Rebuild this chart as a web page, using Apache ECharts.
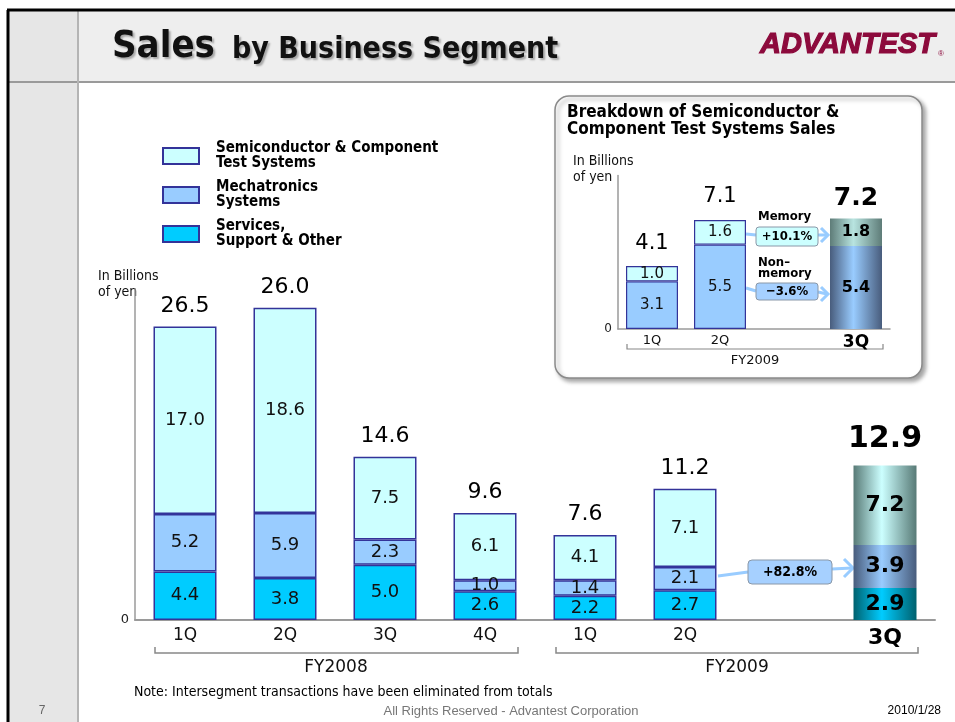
<!DOCTYPE html>
<html>
<head>
<meta charset="utf-8">
<script src="https://cdn.jsdelivr.net/npm/echarts@6/dist/echarts.min.js"></script>
<style>
html, body { margin: 0; padding: 0; background: #fff; }
#main { width: 955px; height: 722px; }
</style>
</head>
<body>
<div id="main"></div>
<script>
// main chart data (billions of yen)
var quarters = ['1Q', '2Q', '3Q', '4Q', '1Q', '2Q', '', '3Q'];
var services = [4.4, 3.8, 5.0, 2.6, 2.2, 2.7, '-', 2.9];
var mechatronics = [5.2, 5.9, 2.3, 1.0, 1.4, 2.1, '-', 3.9];
var semiconductor = [17.0, 18.6, 7.5, 6.1, 4.1, 7.1, '-', 7.2];
var totals = [26.5, 26.0, 14.6, 9.6, 7.6, 11.2, '-', 12.9];

// inset: breakdown of semiconductor & component test systems
var insetQuarters = ['1Q', '2Q', '', '3Q'];
var nonMemory = [3.1, 5.5, '-', 5.4];
var memory = [1.0, 1.6, '-', 1.8];
var insetTotals = [4.1, 7.1, '-', 7.2];

var semiName = 'Semiconductor & Component\nTest Systems';
var mechName = 'Mechatronics\nSystems';
var servName = 'Services,\nSupport & Other';

var NUM = "'DejaVu Sans', Verdana, sans-serif";
var TXT = "'DejaVu Sans Condensed', 'DejaVu Sans', sans-serif";
var EDGE = '#333399';

var chart = echarts.init(document.getElementById('main'));

function cylinder(edge, mid) {
  return new echarts.graphic.LinearGradient(0, 0, 1, 0, [
    { offset: 0, color: edge },
    { offset: 0.45, color: mid },
    { offset: 1, color: edge }
  ]);
}

// values for the last bar get the shaded, borderless look
function items(values, lastIdx, edge, mid, fontSize) {
  return values.map(function (v, i) {
    if (i !== lastIdx || v === '-') return v;
    return {
      value: v,
      itemStyle: { color: cylinder(edge, mid), borderWidth: 0 },
      label: { fontWeight: 'bold', fontSize: fontSize, color: '#000' }
    };
  });
}

function stackTops(parts) {
  return parts[0].map(function (v, i) {
    if (v === '-') return '-';
    var s = 0;
    parts.forEach(function (a) { s += a[i]; });
    return +s.toFixed(2);
  });
}

var mainTops = stackTops([services, mechatronics, semiconductor]);
var insetTops = stackTops([nonMemory, memory]);

function oneDecimal(p) { return (+p.value).toFixed(1); }

function segLabel(size) {
  return { show: true, position: 'inside', formatter: oneDecimal, fontFamily: NUM, fontSize: size, color: '#111' };
}

function titleText(x, y, text, size) {
  return {
    type: 'text', x: x, y: y,
    style: {
      text: text, font: 'bold ' + size + "px 'DejaVu Sans Condensed', sans-serif", fill: '#111', verticalAlign: 'middle',
      textShadowColor: 'rgba(0,0,0,0.3)', textShadowOffsetX: 2, textShadowOffsetY: 2, textShadowBlur: 2
    }
  };
}

var option = {
  animation: false,
  backgroundColor: '#fff',
  legend: {
    data: [semiName, mechName, servName],
    orient: 'vertical',
    left: 157,
    top: 136,
    itemWidth: 36,
    itemHeight: 16,
    itemGap: 9,
    selectedMode: false,
    icon: 'rect',
    textStyle: { fontFamily: TXT, fontWeight: 'bold', fontSize: 15, lineHeight: 15, color: '#000', padding: [0, 0, 0, 12] }
  },
  grid: [
    { left: 135, top: 289, width: 800, height: 331 },
    { left: 618, top: 175.5, width: 272, height: 153.5 }
  ],
  xAxis: [
    {
      type: 'category', gridIndex: 0, data: quarters,
      axisTick: { show: false },
      axisLine: { lineStyle: { color: '#9a9a9a', width: 2 } },
      axisLabel: {
        margin: 7, fontFamily: NUM, fontSize: 17, color: '#111',
        formatter: function (v, i) { return i === 7 ? '{b|' + v + '}' : v; },
        rich: { b: { fontFamily: NUM, fontSize: 22, fontWeight: 'bold', color: '#000' } }
      }
    },
    {
      type: 'category', gridIndex: 1, data: insetQuarters,
      axisTick: { show: false },
      axisLine: { lineStyle: { color: '#9a9a9a', width: 1.5 } },
      axisLabel: {
        margin: 5, fontFamily: NUM, fontSize: 13, color: '#111',
        formatter: function (v, i) { return i === 3 ? '{b|' + v + '}' : v; },
        rich: { b: { fontFamily: NUM, fontSize: 17, fontWeight: 'bold', color: '#000' } }
      }
    }
  ],
  yAxis: [
    {
      type: 'value', gridIndex: 0, min: 0, max: 30, interval: 30,
      splitLine: { show: false },
      axisTick: { show: false },
      axisLine: { show: true, lineStyle: { color: '#9a9a9a', width: 1.5 } },
      axisLabel: { margin: 6, fontFamily: NUM, fontSize: 13, color: '#222', formatter: function (v) { return v === 0 ? '0' : ''; } }
    },
    {
      type: 'value', gridIndex: 1, min: 0, max: 10, interval: 10,
      splitLine: { show: false },
      axisTick: { show: false },
      axisLine: { show: true, lineStyle: { color: '#9a9a9a', width: 1.5 } },
      axisLabel: { margin: 6, fontFamily: NUM, fontSize: 12, color: '#222', formatter: function (v) { return v === 0 ? '0' : ''; } }
    }
  ],
  series: [
    {
      name: servName, type: 'bar', stack: 'main', barWidth: 63,
      itemStyle: { color: '#00ccff', borderColor: EDGE, borderWidth: 1.5 },
      label: segLabel(18),
      data: items(services, 7, '#00616e', '#00ccff', 22)
    },
    {
      name: mechName, type: 'bar', stack: 'main', barWidth: 63,
      itemStyle: { color: '#99ccff', borderColor: EDGE, borderWidth: 1.5 },
      label: segLabel(18),
      data: items(mechatronics, 7, '#485c7c', '#99ccff', 22)
    },
    {
      name: semiName, type: 'bar', stack: 'main', barWidth: 63,
      itemStyle: { color: '#ccffff', borderColor: EDGE, borderWidth: 1.5 },
      label: segLabel(18),
      data: items(semiconductor, 7, '#587a76', '#ccffff', 22)
    },
    {
      name: 'Total', type: 'scatter', symbolSize: 1,
      itemStyle: { color: 'rgba(0,0,0,0)', opacity: 1 },
      label: {
        show: true, position: 'top', distance: 9, opacity: 1,
        fontFamily: NUM, fontSize: 22, color: '#000',
        formatter: function (p) { return totals[p.dataIndex].toFixed(1); }
      },
      data: mainTops.map(function (v, i) {
        if (i !== 7) return v;
        return { value: v, label: { fontSize: 30, fontWeight: 'bold', distance: 11, color: '#000' } };
      })
    },
    {
      name: 'Non-memory', type: 'bar', stack: 'inset', xAxisIndex: 1, yAxisIndex: 1, barWidth: 52,
      itemStyle: { color: '#99ccff', borderColor: EDGE, borderWidth: 1.2 },
      label: segLabel(15),
      data: items(nonMemory, 3, '#485c7c', '#99ccff', 16)
    },
    {
      name: 'Memory', type: 'bar', stack: 'inset', xAxisIndex: 1, yAxisIndex: 1, barWidth: 52,
      itemStyle: { color: '#ccffff', borderColor: EDGE, borderWidth: 1.2 },
      label: segLabel(15),
      data: items(memory, 3, '#5e7c78', '#b8e4e0', 16)
    },
    {
      name: 'Inset total', type: 'scatter', xAxisIndex: 1, yAxisIndex: 1, symbolSize: 1,
      itemStyle: { color: 'rgba(0,0,0,0)', opacity: 1 },
      label: {
        show: true, position: 'top', distance: 12, opacity: 1,
        fontFamily: NUM, fontSize: 21, color: '#000',
        formatter: function (p) { return insetTotals[p.dataIndex].toFixed(1); }
      },
      data: insetTops.map(function (v, i) {
        if (i !== 3) return v;
        return { value: v, label: { fontSize: 25, fontWeight: 'bold', distance: 7, color: '#000' } };
      })
    }
  ],
  graphic: [
    // slide frame
    { type: 'rect', z: -10, shape: { x: 8, y: 10, width: 70, height: 712 }, style: { fill: '#e6e6e6' } },
    { type: 'rect', z: -10, shape: { x: 78, y: 10, width: 877, height: 72 }, style: { fill: '#eeeeee' } },
    { type: 'line', z: -9, shape: { x1: 8, y1: 82, x2: 955, y2: 82 }, style: { stroke: '#9a9a9a', lineWidth: 2 } },
    { type: 'line', z: -9, shape: { x1: 78, y1: 10, x2: 78, y2: 722 }, style: { stroke: '#b4b4b4', lineWidth: 2 } },
    { type: 'line', z: -8, shape: { x1: 7, y1: 10, x2: 955, y2: 10 }, style: { stroke: '#000', lineWidth: 3 } },
    { type: 'line', z: -8, shape: { x1: 8, y1: 10, x2: 8, y2: 722 }, style: { stroke: '#000', lineWidth: 3 } },

    // title and logo
    titleText(112, 47, 'Sales', 38),
    titleText(232, 50, 'by Business Segment', 30),
    { type: 'text', x: 760, y: 45, style: { text: 'ADVANTEST', font: "italic bold 29px 'Liberation Sans', Arial, sans-serif", fill: '#8c0a3c', stroke: '#8c0a3c', lineWidth: 1.2, verticalAlign: 'middle' } },
    { type: 'text', x: 938, y: 54, style: { text: '\u00ae', font: "8px 'Liberation Sans', sans-serif", fill: '#8c0a3c', verticalAlign: 'middle' } },

    // main chart annotations
    { type: 'text', x: 98, y: 268, style: { text: 'In Billions\nof yen', font: "14px 'DejaVu Sans Condensed', sans-serif", lineHeight: 16, fill: '#111' } },
    { type: 'polyline', shape: { points: [[155, 647], [155, 653], [518, 653], [518, 647]] }, style: { stroke: '#888', lineWidth: 1.5, fill: null } },
    { type: 'polyline', shape: { points: [[556, 647], [556, 653], [918, 653], [918, 647]] }, style: { stroke: '#888', lineWidth: 1.5, fill: null } },
    { type: 'text', x: 336, y: 668, style: { text: 'FY2008', font: "17px 'DejaVu Sans', sans-serif", fill: '#111', align: 'center', verticalAlign: 'middle' } },
    { type: 'text', x: 737, y: 668, style: { text: 'FY2009', font: "17px 'DejaVu Sans', sans-serif", fill: '#111', align: 'center', verticalAlign: 'middle' } },
    { type: 'line', shape: { x1: 718, y1: 576, x2: 748, y2: 572 }, style: { stroke: '#99ccff', lineWidth: 3 } },
    { type: 'line', shape: { x1: 832, y1: 569, x2: 852, y2: 568 }, style: { stroke: '#99ccff', lineWidth: 3 } },
    { type: 'polyline', shape: { points: [[844, 559], [853, 568], [844, 577]] }, style: { stroke: '#99ccff', lineWidth: 3, fill: null } },
    { type: 'rect', shape: { x: 748, y: 560, width: 84, height: 24, r: 4 }, style: { fill: '#a6d0ff', stroke: '#8a98a8', lineWidth: 1 } },
    { type: 'text', x: 790, y: 572, style: { text: '+82.8%', font: "bold 14px 'DejaVu Sans Condensed', sans-serif", fill: '#000', align: 'center', verticalAlign: 'middle' } },

    // inset panel
    { type: 'rect', z: 0, shape: { x: 555, y: 96, width: 367, height: 282, r: 14 }, style: { fill: '#fff', stroke: '#8a8a8a', lineWidth: 1.5, shadowBlur: 4, shadowOffsetX: 3, shadowOffsetY: 3, shadowColor: 'rgba(0,0,0,0.35)' } },
    { type: 'text', x: 567, y: 104, style: { text: 'Breakdown of Semiconductor &\nComponent Test Systems Sales', font: "bold 17px 'DejaVu Sans Condensed', sans-serif", lineHeight: 17, fill: '#000' } },
    { type: 'text', x: 573, y: 153, style: { text: 'In Billions\nof yen', font: "14px 'DejaVu Sans Condensed', sans-serif", lineHeight: 16, fill: '#111' } },
    { type: 'polyline', shape: { points: [[627, 344], [627, 349], [883, 349], [883, 344]] }, style: { stroke: '#888', lineWidth: 1.2, fill: null } },
    { type: 'text', x: 755, y: 361, style: { text: 'FY2009', font: "13px 'DejaVu Sans', sans-serif", fill: '#111', align: 'center', verticalAlign: 'middle' } },
    { type: 'text', x: 758, y: 217, style: { text: 'Memory', font: "bold 13px 'DejaVu Sans Condensed', sans-serif", fill: '#000', verticalAlign: 'middle' } },
    { type: 'text', x: 758, y: 257, style: { text: 'Non\u2013\nmemory', font: "bold 13px 'DejaVu Sans Condensed', sans-serif", lineHeight: 11, fill: '#000' } },
    { type: 'line', shape: { x1: 746, y1: 234, x2: 756, y2: 235 }, style: { stroke: '#99ccff', lineWidth: 3 } },
    { type: 'line', shape: { x1: 818, y1: 235, x2: 827, y2: 235 }, style: { stroke: '#99ccff', lineWidth: 3 } },
    { type: 'polyline', shape: { points: [[821, 228], [828, 235], [821, 242]] }, style: { stroke: '#99ccff', lineWidth: 3, fill: null } },
    { type: 'rect', shape: { x: 756, y: 227, width: 62, height: 19, r: 3 }, style: { fill: '#ccffff', stroke: '#8a98a8', lineWidth: 1 } },
    { type: 'text', x: 787, y: 237, style: { text: '+10.1%', font: "bold 13px 'DejaVu Sans Condensed', sans-serif", fill: '#000', align: 'center', verticalAlign: 'middle' } },
    { type: 'line', shape: { x1: 746, y1: 288, x2: 756, y2: 291 }, style: { stroke: '#99ccff', lineWidth: 3 } },
    { type: 'line', shape: { x1: 818, y1: 292, x2: 827, y2: 294 }, style: { stroke: '#99ccff', lineWidth: 3 } },
    { type: 'polyline', shape: { points: [[821, 287], [828, 294], [821, 301]] }, style: { stroke: '#99ccff', lineWidth: 3, fill: null } },
    { type: 'rect', shape: { x: 756, y: 283, width: 62, height: 17, r: 3 }, style: { fill: '#a6d0ff', stroke: '#8a98a8', lineWidth: 1 } },
    { type: 'text', x: 787, y: 292, style: { text: '\u22123.6%', font: "bold 13px 'DejaVu Sans Condensed', sans-serif", fill: '#000', align: 'center', verticalAlign: 'middle' } },

    // footer
    { type: 'text', x: 134, y: 692, style: { text: 'Note: Intersegment transactions have been eliminated from totals', font: "14px 'DejaVu Sans Condensed', sans-serif", fill: '#000', verticalAlign: 'middle' } },
    { type: 'text', x: 42, y: 711, style: { text: '7', font: "12px 'Liberation Sans', sans-serif", fill: '#666', align: 'center', verticalAlign: 'middle' } },
    { type: 'text', x: 511, y: 711, style: { text: 'All Rights Reserved - Advantest Corporation', font: "13px 'Liberation Sans', sans-serif", fill: '#777', align: 'center', verticalAlign: 'middle' } },
    { type: 'text', x: 941, y: 711, style: { text: '2010/1/28', font: "12px 'Liberation Sans', sans-serif", fill: '#000', align: 'right', verticalAlign: 'middle' } }
  ]
};

chart.setOption(option);
</script>
</body>
</html>
